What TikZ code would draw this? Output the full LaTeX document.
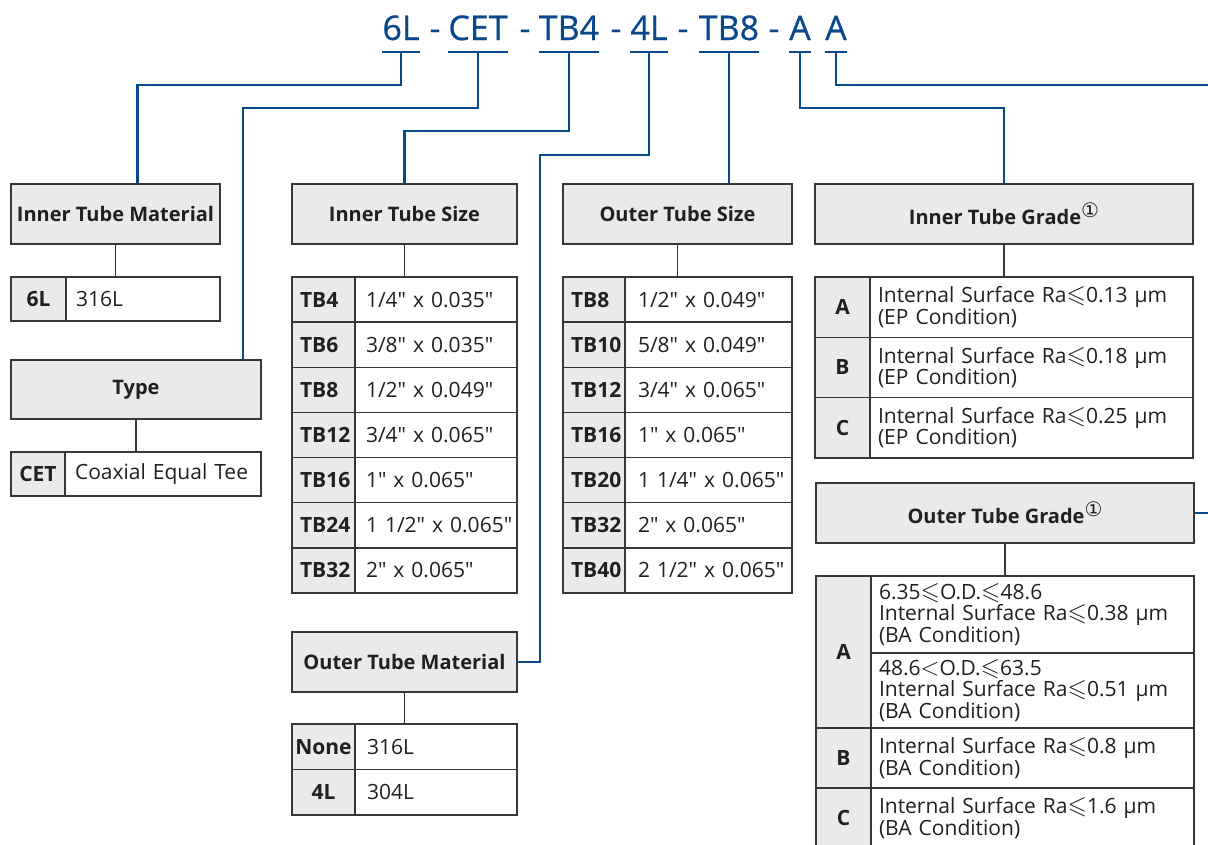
\documentclass[tikz,border=0pt]{standalone}
\usepackage{fontspec}
\setmainfont{Open Sans}[Ligatures=TeXOff]
\newfontfamily\symfont{DejaVu Sans}
\newfontfamily\titlefont{Open Sans}[FakeBold=0.6]
\usepackage{amssymb}
\usetikzlibrary{positioning,calc}

\definecolor{codeblue}{RGB}{10,72,140}
\definecolor{cellgray}{RGB}{233,234,235}
\definecolor{bord}{RGB}{55,55,55}
\definecolor{ink}{RGB}{35,31,32}

\newcommand{\lsq}{{\fontsize{25}{25}\selectfont$\leqslant$}}
\newcommand{\lsl}{{\fontsize{25}{25}\selectfont$<$}}
\newcommand{\circone}{\raisebox{7pt}{\symfont\mdseries\fontsize{20}{20}\selectfont ①}}

\begin{document}
\begin{tikzpicture}[x=1pt,y=-1pt,
  link/.style={draw=codeblue,line width=2.2pt},
  stem/.style={draw=bord,line width=1.5pt},
  code/.style={text=codeblue,inner xsep=0pt,anchor=base,font=\titlefont\fontsize{34}{34}\selectfont},
  hdr/.style={draw=bord,fill=cellgray,line width=1.5pt,minimum height=60pt,text=ink,
    font=\fontsize{20}{22}\selectfont\bfseries},
  key/.style={draw=bord,fill=cellgray,line width=1.5pt,anchor=north west,inner sep=0pt,outer sep=0pt,
    text=ink,font=\fontsize{21}{22}\selectfont\bfseries},
  keyl/.style={key,align=left,inner xsep=8pt},
  val/.style={draw=bord,fill=white,line width=1.5pt,anchor=north west,align=left,outer sep=0pt,
    text=ink,font=\fontsize{21}{21.5}\selectfont}]
\useasboundingbox (0,0) rectangle (1208,844);
\clip (0,0) rectangle (1208,844);

% ordering code
\node[code] (t6L) at (401,40) {6L};
\node[code] (d1)  at (435,40) {-};
\node[code] (tCET) at (478,40) {CET};
\node[code] (d2)  at (525,40) {-};
\node[code] (tTB4) at (569,40) {TB4};
\node[code] (d3)  at (616,40) {-};
\node[code] (t4L) at (649,40) {4L};
\node[code] (d4)  at (683,40) {-};
\node[code] (tTB8) at (729,40) {TB8};
\node[code] (d5)  at (774,40) {-};
\node[code] (tA)  at (800,40) {A};
\node[code] (tAA) at (836,40) {A};
\foreach \n in {t6L,tCET,tTB4,t4L,tTB8,tA,tAA}
  \draw[link] ([yshift=-12pt]\n.base west) -- ([yshift=-12pt]\n.base east);

% headers
\node[hdr,minimum width=209pt] (itm) at (115.5,214) {Inner Tube Material};
\node[hdr,minimum width=250pt,minimum height=59pt] (typ) at (136,389.5) {Type};
\node[hdr,minimum width=225pt] (its) at (404.5,214) {Inner Tube Size};
\node[hdr,minimum width=229pt] (ots) at (677.5,214) {Outer Tube Size};
\node[hdr,minimum width=225pt] (otm) at (404.5,662) {Outer Tube Material};
\node[hdr,minimum width=378pt] (itg) at (1004,214) {Inner Tube Grade\circone};
\node[hdr,minimum width=378pt] (otg) at (1005,513) {Outer Tube Grade\circone};

% blue leaders
\draw[link] ([yshift=-12pt]t6L.base) -- ++(0,33) -| ($(itm.north)+(22,0)$);
\draw[link] ([yshift=-12pt]tCET.base) -- ++(0,56) -| ($(typ.north)+(107,0)$);
\draw[link] ([yshift=-12pt]tTB4.base) -- ++(0,79) -| (its.north);
\draw[link] ([yshift=-12pt]t4L.base) -- ++(0,103) -| ($(otm.east)+(22,0)$) -- (otm.east);
\draw[link] ([yshift=-12pt]tTB8.base) -- (tTB8.base |- ots.north);
\draw[link] ([yshift=-12pt]tA.base) -- ++(0,56) -| (itg.north);
\draw[link] ([yshift=-12pt]tAA.base) -- ++(0,33) -| ($(otg.east)+(20,0)$) -- (otg.east);

% inner tube material
\node[key,minimum width=55pt,minimum height=44pt] (im0) at (11,277) {6L};
\node[val,minimum width=154pt,minimum height=44pt,text width=134pt,inner xsep=10pt] (imv0) at (im0.north east) {316L};
\draw[stem] (itm.south) -- (itm.south |- im0.north);

% type
\node[key,minimum width=54pt,minimum height=44pt] (ty0) at (11,452) {CET};
\node[val,minimum width=196pt,minimum height=44pt,text width=176pt,inner xsep=10pt] (tyv0) at (ty0.north east) {Coaxial Equal Tee};
\draw[stem] (typ.south) -- (typ.south |- ty0.north);

% inner tube size
\foreach \k/\v [count=\i from 0] in {TB4/{1/4" x 0.035"},TB6/{3/8" x 0.035"},
    TB8/{1/2" x 0.049"},TB12/{3/4" x 0.065"},TB16/{1" x 0.065"},
    TB24/{1 1/2" x 0.065"},TB32/{2" x 0.065"}}{
  \node[keyl,minimum width=63pt,minimum height=45.14pt,text width=47pt] (is\i) at (292,{277+45.14*\i}) {\k};
  \node[val,minimum width=162pt,minimum height=45.14pt,text width=140pt,inner xsep=11pt] (isv\i) at (is\i.north east) {\mbox{\v}};
}
\draw[stem] (its.south) -- (its.south |- is0.north);

% outer tube size
\foreach \k/\v [count=\i from 0] in {TB8/{1/2" x 0.049"},TB10/{5/8" x 0.049"},
    TB12/{3/4" x 0.065"},TB16/{1" x 0.065"},TB20/{1 1/4" x 0.065"},
    TB32/{2" x 0.065"},TB40/{2 1/2" x 0.065"}}{
  \node[keyl,minimum width=62pt,minimum height=45.14pt,text width=46pt] (os\i) at (563,{277+45.14*\i}) {\k};
  \node[val,minimum width=167pt,minimum height=45.14pt,text width=141pt,inner xsep=13pt] (osv\i) at (os\i.north east) {\mbox{\v}};
}
\draw[stem] (ots.south) -- (ots.south |- os0.north);

% outer tube material
\foreach \k/\v [count=\i from 0] in {None/316L,4L/304L}{
  \node[key,minimum width=63pt,minimum height=45.5pt] (om\i) at (292,{724+45.5*\i}) {\k};
  \node[val,minimum width=162pt,minimum height=45.5pt,text width=138pt,inner xsep=12pt] (omv\i) at (om\i.north east) {\v};
}
\draw[stem] (otm.south) -- (otm.south |- om0.north);

% inner tube grade
\foreach \k/\v [count=\i from 0] in {A/{Internal Surface Ra\lsq0.13 µm\\(EP Condition)},
    B/{Internal Surface Ra\lsq0.18 µm\\(EP Condition)},
    C/{Internal Surface Ra\lsq0.25 µm\\(EP Condition)}}{
  \node[key,minimum width=55pt,minimum height=60.33pt] (ig\i) at (815,{277+60.33*\i}) {\k};
  \node[val,minimum width=323pt,minimum height=60.33pt,text width=307pt,inner xsep=8pt] (igv\i) at (ig\i.north east) {\v};
}
\draw[stem] (itg.south) -- (itg.south |- ig0.north);

% outer tube grade
\node[key,minimum width=55pt,minimum height=152pt] (og0) at (816,576) {A};
\node[val,minimum width=323pt,minimum height=77pt,text width=307pt,inner xsep=8pt] (ogv0) at (og0.north east)
  {6.35\lsq O.D.\lsq48.6\\Internal Surface Ra\lsq0.38 µm\\(BA Condition)};
\node[val,minimum width=323pt,minimum height=75pt,text width=307pt,inner xsep=8pt] (ogv1) at (ogv0.south west)
  {48.6\lsl O.D.\lsq63.5\\Internal Surface Ra\lsq0.51 µm\\(BA Condition)};
\node[key,minimum width=55pt,minimum height=60pt] (og1) at (816,728) {B};
\node[val,minimum width=323pt,minimum height=60pt,text width=307pt,inner xsep=8pt] (ogv2) at (og1.north east)
  {Internal Surface Ra\lsq0.8 µm\\(BA Condition)};
\node[key,minimum width=55pt,minimum height=60pt] (og2) at (816,788) {C};
\node[val,minimum width=323pt,minimum height=60pt,text width=307pt,inner xsep=8pt] (ogv3) at (og2.north east)
  {Internal Surface Ra\lsq1.6 µm\\(BA Condition)};
\draw[stem] (otg.south) -- (otg.south |- og0.north);
\end{tikzpicture}
\end{document}
